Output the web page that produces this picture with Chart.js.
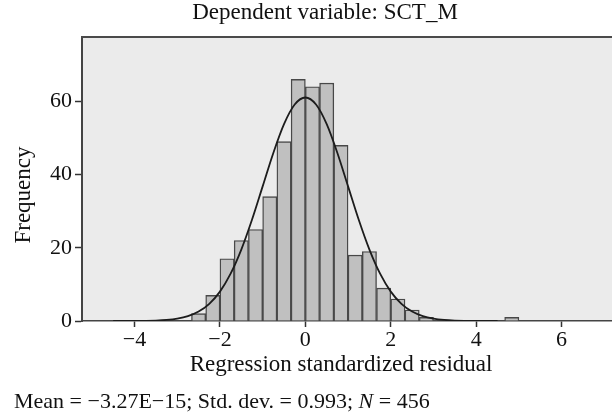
<!DOCTYPE html>
<html>
<head>
<meta charset="utf-8">
<script src="https://cdn.jsdelivr.net/npm/chart.js@4/dist/chart.umd.min.js"></script>
<style>
  html, body { margin: 0; padding: 0; background: #fff; }
  #wrap { position: relative; width: 612px; height: 414px; overflow: hidden; font-family: 'Liberation Serif', 'Times New Roman', serif; color: #111; }
  #c { position: absolute; left: 0; top: 0; }
  .t { position: absolute; white-space: nowrap; text-align: center; }
  #title { left: 0; width: 650px; top: -1px; font-size: 23px; line-height: 26px; }
  #xtitle { left: 141px; width: 400px; top: 351px; font-size: 23px; line-height: 26px; }
  #ytitle { left: -77px; width: 200px; top: 182px; font-size: 23px; line-height: 26px; transform: rotate(-90deg); transform-origin: 50% 50%; }
  #foot { position: absolute; left: 14px; top: 389px; font-size: 22px; line-height: 24px; white-space: nowrap; }
</style>
</head>
<body>
<div id="wrap">
  <canvas id="c" width="612" height="414"></canvas>
  <div class="t" id="title"></div>
  <div class="t" id="xtitle"></div>
  <div class="t" id="ytitle"></div>
  <div id="foot">Mean = −3.27E−15; Std. dev. = 0.993; <i>N</i> = 456</div>
</div>
<script>
// Histogram bins (bin midpoints, width 1/3) and counts
const binMids = [-2.5, -2.1667, -1.8333, -1.5, -1.1667, -0.8333, -0.5, -0.1667, 0.1667, 0.5, 0.8333, 1.1667, 1.5, 1.8333, 2.1667, 2.5, 2.8333, 4.8333];
const binCounts = [2, 7, 17, 22, 25, 34, 49, 66, 64, 65, 48, 18, 19, 9, 6, 3, 1, 1];

// Fitted normal curve
const curveX = [-4.5, -4.25, -4, -3.75, -3.5, -3.25, -3, -2.75, -2.5, -2.25, -2, -1.75, -1.5, -1.25, -1, -0.75, -0.5, -0.25, 0, 0.25, 0.5, 0.75, 1, 1.25, 1.5, 1.75, 2, 2.25, 2.5, 2.75, 3, 3.25, 3.5, 3.75, 4, 4.25, 4.5];
const curveY = [0, 0.01, 0.02, 0.05, 0.12, 0.29, 0.64, 1.32, 2.57, 4.69, 8.03, 12.92, 19.51, 27.65, 36.78, 45.92, 53.80, 59.16, 61.07, 59.16, 53.80, 45.92, 36.78, 27.65, 19.51, 12.92, 8.03, 4.69, 2.57, 1.32, 0.64, 0.29, 0.12, 0.05, 0.02, 0.01, 0];

// Axis ranges / tick labels
const xTicks = [-4, -2, 0, 2, 4, 6];
const yTicks = [0, 20, 40, 60];
const xRange = [-5.23, 7.18];
const yRange = [0, 77.6];

const titleText = 'Dependent variable: SCT_M';
const xTitle = 'Regression standardized residual';
const yTitle = 'Frequency';

document.getElementById('title').textContent = titleText;
document.getElementById('xtitle').textContent = xTitle;
document.getElementById('ytitle').textContent = yTitle;

const FONT = "'Liberation Serif', 'Times New Roman', serif";

const barData = binMids.map((x, i) => ({ x: x, y: binCounts[i] }));
const lineData = curveX.map((x, i) => ({ x: x, y: curveY[i] }));

const plotBg = {
  id: 'plotBg',
  beforeDraw(chart) {
    const { ctx, chartArea: a } = chart;
    ctx.save();
    ctx.fillStyle = '#ebebeb';
    ctx.fillRect(a.left, a.top, a.right - a.left, a.bottom - a.top);
    ctx.restore();
  },
  afterDraw(chart) {
    const { ctx, chartArea: a } = chart;
    ctx.save();
    ctx.strokeStyle = '#4a4a4a';
    ctx.lineWidth = 2;
    ctx.beginPath();
    ctx.moveTo(a.left - 1, a.top);
    ctx.lineTo(a.right, a.top);
    ctx.stroke();
    ctx.restore();
  }
};

new Chart(document.getElementById('c'), {
  type: 'bar',
  data: {
    datasets: [
      {
        type: 'line',
        data: lineData,
        borderColor: '#1c1c1c',
        borderWidth: 1.8,
        pointRadius: 0,
        cubicInterpolationMode: 'monotone',
        fill: false,
        order: 0
      },
      {
        type: 'bar',
        data: barData,
        backgroundColor: '#c0c0c0',
        borderColor: '#484848',
        borderWidth: 1.4,
        borderSkipped: 'start',
        barPercentage: 1,
        categoryPercentage: 1,
        order: 1
      }
    ]
  },
  options: {
    responsive: false,
    animation: false,
    devicePixelRatio: 1,
    layout: { padding: { left: 0, right: 0, top: 37, bottom: 30 } },
    plugins: {
      legend: { display: false },
      tooltip: { enabled: false },
      title: { display: false }
    },
    scales: {
      x: {
        type: 'linear',
        offset: false,
        min: xRange[0],
        max: xRange[1],
        afterFit(scale) { scale.height = 63; },
        afterBuildTicks(scale) { scale.ticks = xTicks.map(v => ({ value: v })); },
        ticks: {
          color: '#111',
          font: { family: FONT, size: 22 },
          padding: 0,
          maxRotation: 0,
          callback: v => (v < 0 ? '−' + Math.abs(v) : String(v))
        },
        grid: { offset: false, drawOnChartArea: false, drawTicks: true, tickLength: 6, tickColor: '#333', tickWidth: 1.5 },
        border: { display: true, color: '#444', width: 1.5 },
        title: { display: false }
      },
      y: {
        type: 'linear',
        min: yRange[0],
        max: yRange[1],
        afterFit(scale) { scale.width = 82; },
        afterBuildTicks(scale) { scale.ticks = yTicks.map(v => ({ value: v })); },
        ticks: {
          color: '#111',
          font: { family: FONT, size: 22 },
          padding: 3
        },
        grid: { drawOnChartArea: false, drawTicks: true, tickLength: 7, tickColor: '#333', tickWidth: 1.5 },
        border: { display: true, color: '#444', width: 2 },
        title: { display: false }
      }
    }
  },
  plugins: [plotBg]
});
</script>
</body>
</html>
